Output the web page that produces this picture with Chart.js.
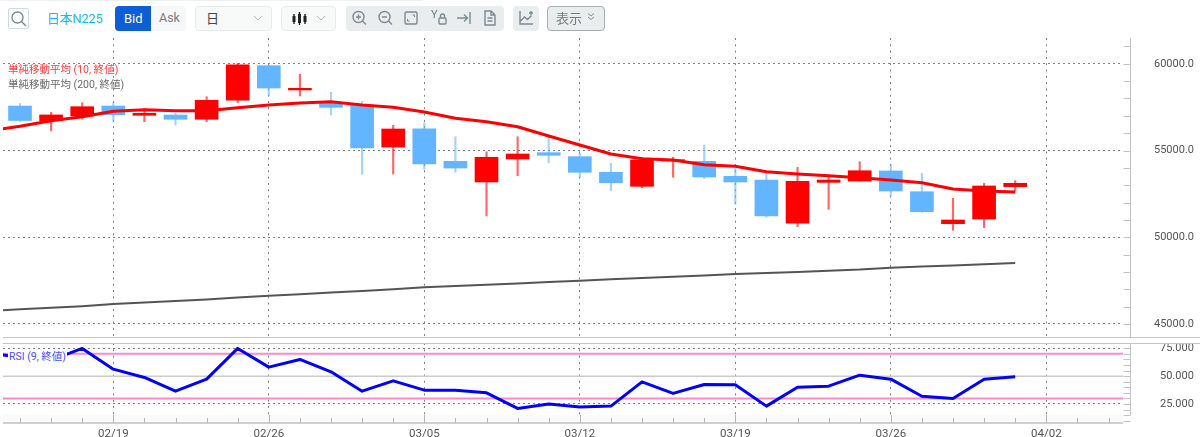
<!DOCTYPE html>
<html lang="ja"><head><meta charset="utf-8">
<script src="https://cdn.jsdelivr.net/npm/chart.js@4/dist/chart.umd.min.js"></script>
<style>
html,body{margin:0;padding:0;background:#fff;width:1200px;height:437px;overflow:hidden;font-family:Roboto,"Noto Sans CJK JP",sans-serif}
body{filter:blur(.4px)}
canvas{position:absolute;left:0;display:block}
#top{top:0}#bot{top:338px}
.sep{position:absolute;left:3px;right:0;height:1px;background:#c4c4c4}
.t{position:absolute;white-space:nowrap;line-height:1}
.box{position:absolute;top:6px;height:25px;box-sizing:border-box;border-radius:4px}
.leg{position:absolute;left:8px;font:10.5px/14px Roboto,"Noto Sans CJK JP",sans-serif;white-space:nowrap}
svg{position:absolute;fill:none;stroke:#7d8a92;stroke-width:1.4}
</style></head><body>
<canvas id="top" width="1200" height="337"></canvas>
<canvas id="bot" width="1200" height="99"></canvas>
<div class="sep" style="top:337px"></div><div class="sep" style="top:343px"></div>

<div style="position:absolute;left:0;top:0;width:423px;height:1px;background:#eef0f1"></div>
<div class="box" style="left:8px;top:8px;width:21px;height:21px;border:1px solid #cfdbe0;border-radius:2px"></div>
<svg style="left:8px;top:8px" width="21" height="21"><circle cx="9.5" cy="9.5" r="5.5"/><path d="M13.5 13.5l4.5 4.5"/></svg>
<div class="t" style="left:47px;top:11.5px;font-size:13px;color:#12bdf5;letter-spacing:-.25px">日本N225</div>
<div class="box" style="left:115px;width:36px;background:#0b5ed7;border-radius:4px 0 0 4px"></div>
<div class="t" style="left:124px;top:12px;font-size:13px;color:#fff;">Bid</div>
<div class="box" style="left:151px;width:35px;background:#f6f7f8;border-radius:0 4px 4px 0"></div>
<div class="t" style="left:159px;top:12px;font-size:12.5px;color:#7c7c7c">Ask</div>
<div class="box" style="left:195px;width:77px;background:#f8f9f9;border:1px solid #e8ebec"></div>
<div class="t" style="left:206px;top:12px;font-size:13px;color:#444">日</div>
<svg style="left:252px;top:14px;stroke:#b5bcc0;stroke-width:1" width="12" height="9"><path d="M2 2l4 4 4-4"/></svg>
<div class="box" style="left:281px;width:55px;background:#f8f9f9;border:1px solid #e8ebec"></div>
<svg style="left:292px;top:11px;stroke:#222" width="16" height="16"><path d="M2 3v10M7.500 1v13M13 3v10"/><path d="M2 5v6M7.500 3v9M13 5v6" stroke-width="3"/></svg>
<svg style="left:315px;top:14px;stroke:#b5bcc0;stroke-width:1" width="12" height="9"><path d="M2 2l4 4 4-4"/></svg>
<div class="box" style="left:346px;width:158px;background:#e9edee"></div>
<svg style="left:351px;top:9px" width="16" height="18"><circle cx="7.500" cy="8" r="5.500"/><path d="M11.500 12l3.500 3.500M5 8h5M7.500 5.500v5"/></svg>
<svg style="left:377px;top:9px" width="16" height="18"><circle cx="7.500" cy="8" r="5.500"/><path d="M11.500 12l3.500 3.500M5 8h5"/></svg>
<svg style="left:403px;top:10px" width="16" height="16"><rect x="2" y="2" width="12" height="12" rx="1.500"/><path d="M9.500 5h2v2M4.500 11h2M4.500 11V9" stroke-width="1"/></svg>
<div class="t" style="left:431px;top:9px;font-size:11px;color:#6f7c84">Y</div>
<svg style="left:438px;top:13px" width="9" height="12"><rect x="1" y="5" width="7" height="6" rx="1"/><path d="M2.500 5V3a2 2 0 0 1 4 0v2"/></svg>
<svg style="left:456px;top:11px" width="16" height="14"><path d="M1 7h10M8 3.500l3.500 3.500-3.500 3.500M14 1v12"/></svg>
<svg style="left:483px;top:9px" width="14" height="18"><path d="M2 2h6l4 4v10H2zM8 2v4h4M4.500 9h5M4.500 12h5"/></svg>
<div class="box" style="left:513px;width:26px;background:#e9edee"></div>
<svg style="left:518px;top:9px" width="17" height="18"><path d="M2 2v13h13M2.500 12l4-4 3 2.500 4-4M11 4h4M13 2v4"/></svg>
<div class="box" style="left:547px;width:58px;background:#e9edee;border:1px solid #a9aeb0"></div>
<div class="t" style="left:556px;top:12px;font-size:13px;color:#7b7b7b">表示</div>
<svg style="left:586px;top:12px;stroke:#8c8c8c;stroke-width:1" width="10" height="10"><path d="M2 1.500l3 2.500 3-2.500M2 5l3 2.500L8 5"/></svg>

<div class="leg" style="top:63px;color:#ff3c3c">単純移動平均 (10, 終値)</div>
<div class="leg" style="top:78px;color:#6a6a6a">単純移動平均 (200, 終値)</div>
<div class="leg" style="top:350px;padding:0 1px;background:#fff;color:#4a4aff">RSI (9, 終値)</div>
<script>
const dates=['02/13','02/16','02/17','02/18','02/19','02/20','02/23','02/24','02/25','02/26','02/27','03/02','03/03','03/04','03/05','03/06','03/09','03/10','03/11','03/12','03/13','03/16','03/17','03/18','03/19','03/20','03/23','03/24','03/25','03/26','03/27','03/30','03/31','04/01','04/02','04/03','04/06'];
const xTickLabels=['02/19','02/26','03/05','03/12','03/19','03/26','04/02'];
const priceTicks=[45000,50000,55000,60000];
const rsiTicks=[25,50,75];
const opens=[null,57565,56720,56990,57565,57030,57045,56800,57895,59890,58490,57780,57625,55200,56255,54375,53185,54510,54875,54645,53745,52935,54395,54375,53515,53300,50805,53165,53240,53820,52625,50780,51050,52915];
const closes=[null,56730,57050,57525,57065,57145,56800,57895,59945,58600,58585,57490,55145,56240,54220,53990,54610,54800,54725,53745,53145,54450,54470,53475,53185,51225,53225,53300,53835,52665,51470,50995,52955,53110];
const highs=[null,57710,57200,57755,57755,57410,57145,58100,60025,59900,59390,58355,57815,56455,56600,55795,54930,55795,55760,54840,54260,54610,54610,55315,53975,53780,54030,53590,54355,54205,53685,52245,53110,53260];
const lows=[null,56670,56140,56800,56700,56660,56470,56660,57755,58160,58140,57045,53630,53645,53915,53745,51225,53545,54295,53430,52685,52855,53455,53375,51900,51150,50610,51610,53240,52375,51440,50400,50550,52665];
const ma10=[56140,56395,56718,56948,57259,57352,57294,57294,57467,57623,57738,57813,57623,57490,57219,56856,56660,56372,55836,55317,54798,54527,54452,54182,54089,53778,53645,53547,53432,53300,53144,52781,52666,52608];
const ma200=[45737,45847,45933,46025,46152,46233,46325,46417,46521,46631,46717,46809,46902,47005,47115,47190,47265,47340,47420,47495,47582,47651,47720,47789,47881,47939,47997,48066,48135,48245,48308,48377,48446,48515];
const rsi=[70.6,67,64.4,74.9,56.3,48.8,36.5,47.3,74.9,58.1,65,53.9,36.5,45.8,37.4,37.4,35,21,24.9,22.2,23.1,44.9,34.5,42.5,42.2,23.1,40.1,41,50.9,47.3,32,30,47.3,49.4];
const rsiBands=[70,50,30];

const X_MIN=0.453,X_MAX=36.466,RED='#ff0000',BLUE='#64b5ff',GRID='#808080',TXT='#555555';
const tickFont={family:'Roboto',size:11};
const xFont={family:'Roboto',size:11.5};
const xMajor=xTickLabels.map(l=>dates.indexOf(l));
const isUp=i=>closes[i]>=opens[i];
const colors=opens.map((_,i)=>isUp(i)?RED:BLUE);
const wickColors=opens.map((_,i)=>isUp(i)?'rgba(255,0,0,.6)':'rgba(100,181,255,.6)');
const series=a=>a.map((y,i)=>({x:i,y}));

const axisMarks={id:'axisMarks',
 beforeDatasetsDraw(c,_,o){
  if(!o.xAxis)return;const g=c.ctx,a=c.chartArea;
  g.save();g.fillStyle='#fafafa';g.fillRect(a.left,a.bottom-8,a.width,8);g.restore();
 },
 afterDraw(c,_,o){
  const g=c.ctx,y=c.scales.y,x=c.scales.x,a=c.chartArea,ax=1130.5;
  g.save();g.strokeStyle='#c4c4c4';g.lineWidth=1;
  g.beginPath();g.moveTo(ax,a.top);g.lineTo(ax,o.xAxis?a.bottom-8:a.bottom);g.stroke();
  g.beginPath();
  for(let v=Math.ceil(y.min/o.step)*o.step;v<=y.max;v+=o.step){const p=Math.round(y.getPixelForValue(v))+.5;g.moveTo(ax-7,p);g.lineTo(ax,p);}
  g.stroke();
  if(o.xAxis){
   g.strokeStyle='#cfcfcf';g.lineWidth=2;g.beginPath();g.moveTo(a.left,a.bottom);g.lineTo(a.right,a.bottom);g.stroke();
   g.strokeStyle='#b5b5b5';g.lineWidth=1;g.beginPath();
   dates.forEach((_,i)=>{if(i<X_MIN)return;const p=Math.round(x.getPixelForValue(i))+.5;g.moveTo(p,a.bottom);g.lineTo(p,a.bottom-(xMajor.includes(i)?8:5));});
   g.stroke();
  }
  g.restore();
 }};
Chart.register(axisMarks);

const lineDs=(data,color,w,order)=>({type:'line',data,borderColor:color,borderWidth:w,pointRadius:0,tension:0,order,borderJoinStyle:'round'});
const xScale=(showLabels,h)=>({type:'linear',min:X_MIN,max:X_MAX,offset:false,
 afterBuildTicks:s=>{s.ticks=xMajor.map(value=>({value}));},
 afterFit:s=>{s.height=h;s.paddingLeft=0;s.paddingRight=0;},
 border:{display:false,dash:[2,4.3]},
 grid:{color:GRID,drawTicks:false,lineWidth:1,offset:false},
 ticks:{display:showLabels,autoSkip:false,maxRotation:0,padding:4,color:TXT,font:xFont,callback:v=>dates[v]}});
const yScale=(min,max,vals,dec,pad)=>({position:'right',min,max,
 afterBuildTicks:s=>{s.ticks=vals.map(value=>({value}));},
 afterFit:s=>{s.width=77;s.paddingTop=0;s.paddingBottom=0;},
 border:{display:false,dash:[2,3]},
 grid:{color:GRID,drawTicks:false,lineWidth:1},
 ticks:{padding:pad,color:TXT,font:tickFont,callback:v=>v.toFixed(dec)}});
const base={responsive:false,animation:false,events:[],devicePixelRatio:1};

new Chart(document.getElementById('top'),{type:'bar',data:{datasets:[
 lineDs(series(ma200),'#555555',2,1),
 lineDs(series(ma10),RED,3,0),
 {data:opens.map((o,i)=>({x:i,y:o==null?null:[o,closes[i]]})),backgroundColor:colors,barThickness:23,grouped:false,order:2},
 {data:highs.map((h,i)=>({x:i,y:h==null?null:[lows[i],h]})),backgroundColor:wickColors,barThickness:1.5,grouped:false,order:3}
]},options:{...base,layout:{padding:{left:3,top:38,right:0,bottom:0}},
 plugins:{legend:{display:false},tooltip:{enabled:false},axisMarks:{step:1000}},
 scales:{x:xScale(false,0),y:yScale(44250,61485,priceTicks,1,31)}}});

new Chart(document.getElementById('bot'),{type:'line',data:{datasets:[
 lineDs(series(rsi),'#0000ff',3,0),
 lineDs([{x:X_MIN,y:rsiBands[0]},{x:X_MAX,y:rsiBands[0]}],'#ff88c8',2,2),
 lineDs([{x:X_MIN,y:rsiBands[1]},{x:X_MAX,y:rsiBands[1]}],'#cccccc',1.5,3),
 lineDs([{x:X_MIN,y:rsiBands[2]},{x:X_MAX,y:rsiBands[2]}],'#ff88c8',2,2)
]},options:{...base,layout:{padding:{left:3,top:5,right:0,bottom:0}},
 plugins:{legend:{display:false},tooltip:{enabled:false},axisMarks:{step:5,xAxis:true}},
 scales:{x:xScale(true,14),y:yScale(7.94,79.76,rsiTicks,3,37)}}});
</script>
</body></html>
